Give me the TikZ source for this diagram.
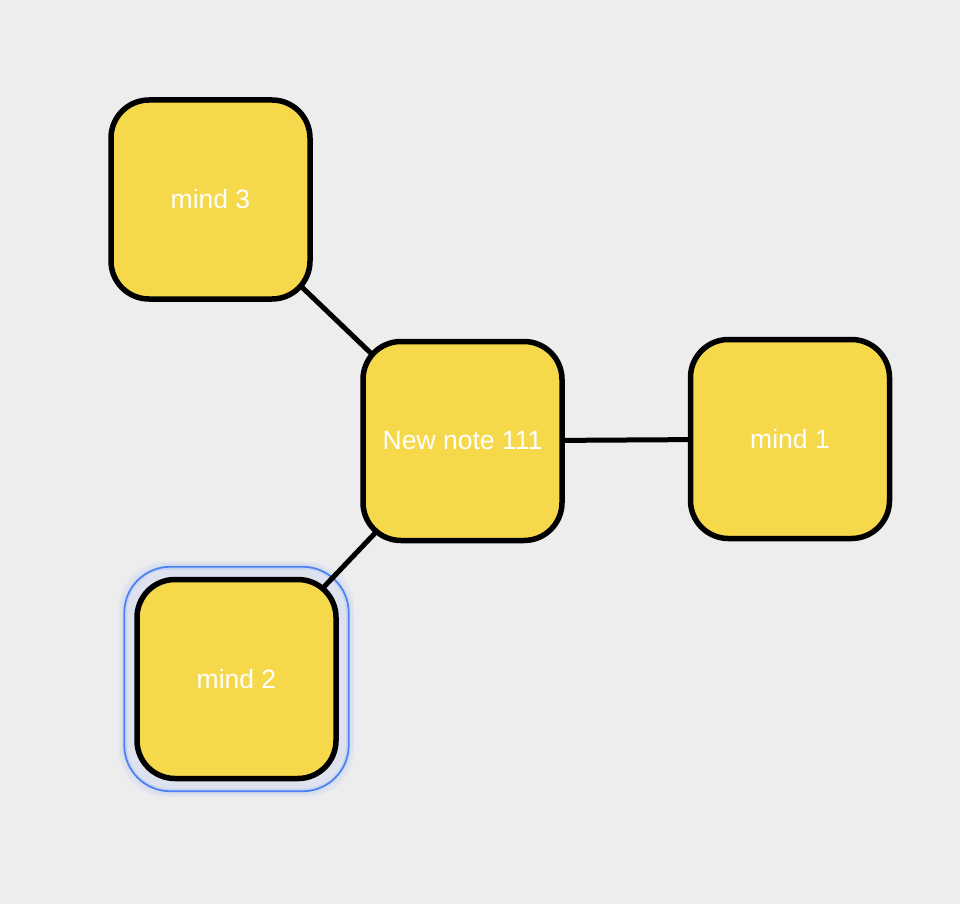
\documentclass[tikz,border=0pt]{standalone}
\usepackage{fontspec}
\setmainfont{Liberation Sans}
\usetikzlibrary{calc}
\definecolor{bgcol}{HTML}{EDEDED}
\definecolor{cardyellow}{HTML}{F6D84B}
\definecolor{selblue}{HTML}{4C82F5}
\pgfdeclarelayer{bg}
\pgfdeclarelayer{glow}
\pgfdeclarelayer{edges}
\pgfsetlayers{bg,glow,edges,main}
\tikzset{
  card/.style={draw=black, line width=5.5pt, fill=cardyellow, rounded corners=38pt,
    minimum width=199pt, minimum height=199pt, inner sep=0pt, text=white,
    font=\fontsize{26.5}{30}\selectfont},
  link/.style={draw=black, line width=5pt},
  ring/.style={draw=selblue, line width=1.8pt, rounded corners=46pt},
}
\begin{document}
\begin{tikzpicture}[x=1pt,y=-1pt]
  \begin{pgfonlayer}{bg}
    \fill[bgcol] (0,0) rectangle (960,904);
  \end{pgfonlayer}
  \useasboundingbox (0,0) rectangle (960,904);
  \node[card] (m3) at (210.5,199.5) {mind 3};
  \node[card] (nn) at (462.5,441) {New note 111};
  \node[card] (m1) at (790,439) {mind 1};
  \node[card] (m2) at (236.5,679) {mind 2};
  \begin{pgfonlayer}{glow}
    % soft outer glow
    \foreach \o/\op in {14.5/0.05,13/0.08,11.5/0.12} {
      \draw[selblue, line width=2pt, opacity=\op, rounded corners=46pt]
        ($(m2.north west)+(-\o,-\o)$) rectangle ($(m2.south east)+(\o,\o)$);
    }
    \fill[selblue!22!bgcol, rounded corners=46pt]
      ($(m2.north west)+(-10,-10)$) rectangle ($(m2.south east)+(10,10)$);
    \fill[selblue!10!bgcol, rounded corners=42pt]
      ($(m2.north west)+(-7,-7)$) rectangle ($(m2.south east)+(7,7)$);
    \draw[ring] ($(m2.north west)+(-10,-10)$) rectangle ($(m2.south east)+(10,10)$);
  \end{pgfonlayer}
  \begin{pgfonlayer}{edges}
    \draw[link] (m3.center) -- (nn.center);
    \draw[link] (nn.center) -- (m1.center);
    \draw[link] (nn.center) -- (m2.center);
  \end{pgfonlayer}
\end{tikzpicture}
\end{document}
